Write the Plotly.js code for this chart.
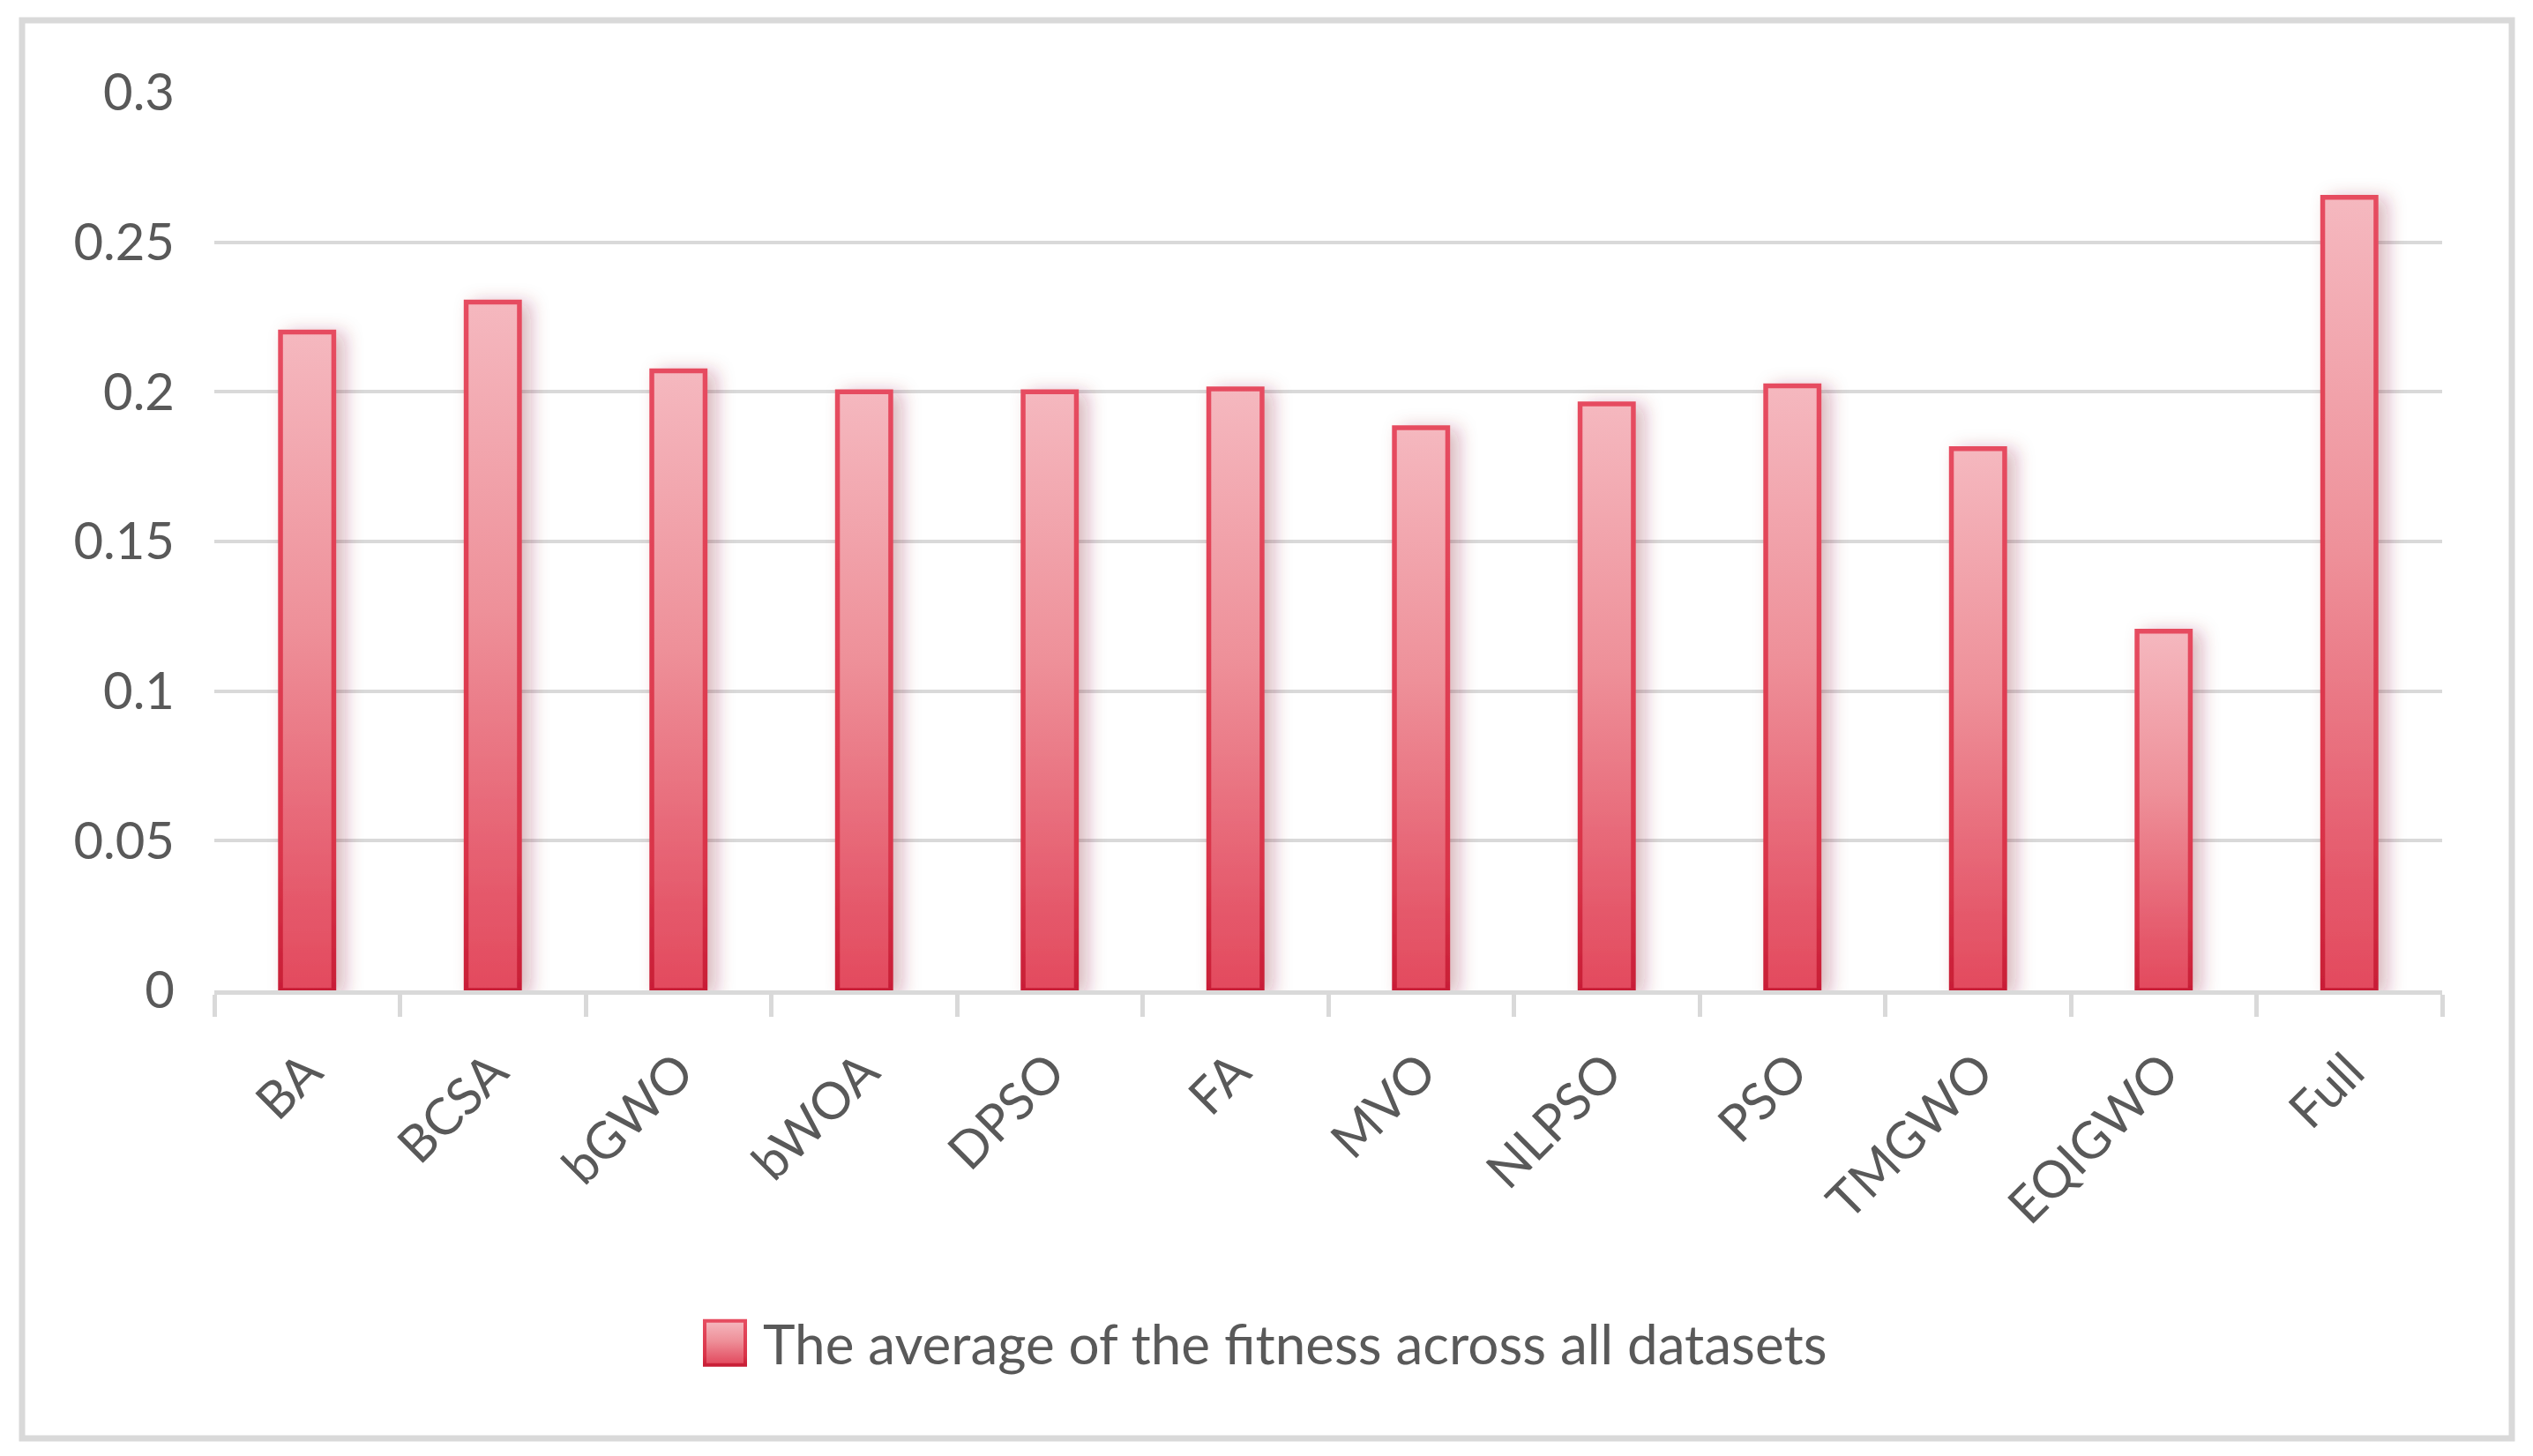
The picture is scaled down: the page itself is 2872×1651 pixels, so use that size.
<!DOCTYPE html>
<html><head><meta charset="utf-8">
<script src="https://cdn.plot.ly/plotly-3.0.1.min.js"></script>
<style>html,body{margin:0;padding:0;background:#fff;} #chart{width:2872px;height:1651px;}</style>
</head><body><div id="chart"></div>
<script>
const categories = ['BA','BCSA','bGWO','bWOA','DPSO','FA','MVO','NLPSO','PSO','TMGWO','EQIGWO','Full'];
const avgFitness = [0.220,0.230,0.207,0.200,0.200,0.201,0.188,0.196,0.202,0.181,0.120,0.265];
const yTickValues = [0,0.05,0.1,0.15,0.2,0.25,0.3];
const yTickLabels = ['0','0.05','0.1','0.15','0.2','0.25','0.3'];
const seriesName = 'The average of the fitness across all datasets';

const FONT = 'Lato, "Liberation Sans", sans-serif';
const TXT = '#595959';

const trace = {
  type: 'bar', x: categories, y: avgFitness, name: seriesName,
  showlegend: true,
  marker: {color: '#ec8590', line: {color: '#e34a5e', width: 5.5}},
  hoverinfo: 'none'
};

const layout = {
  width: 2872, height: 1651, autosize: false,
  margin: {l: 243, r: 103, t: 105, b: 528, pad: 0},
  paper_bgcolor: '#ffffff', plot_bgcolor: '#ffffff',
  bargap: 0.713,
  font: {family: FONT, color: TXT, size: 58},
  xaxis: {
    type: 'category', tickson: 'boundaries', ticks: 'outside', ticklen: 25, tickwidth: 5,
    tickcolor: '#d9d9d9', showline: true, linecolor: '#d9d9d9', linewidth: 5,
    showgrid: false, zeroline: false, tickangle: -45, ticklabelstandoff: 30,
    tickfont: {family: FONT, color: TXT, size: 58}
  },
  yaxis: {
    range: [0, 0.3], tickvals: yTickValues, ticktext: yTickLabels,
    showgrid: true, gridcolor: '#d9d9d9', gridwidth: 4, zeroline: false, showline: false,
    ticks: '', ticklabelstandoff: 44,
    tickfont: {family: FONT, color: TXT, size: 58}
  },
  showlegend: true,
  legend: {
    orientation: 'h', xref: 'container', yref: 'container', x: 0.5, xanchor: 'center',
    y: 0.0775, yanchor: 'middle', bgcolor: 'rgba(0,0,0,0)',
    font: {family: FONT, color: TXT, size: 62}, itemwidth: 60
  },
  shapes: [{
    type: 'rect', xref: 'paper', yref: 'paper', layer: 'below',
    x0: (25-243)/2526, x1: (2848-243)/2526, y0: (1123-1631)/1018, y1: (1123-23)/1018,
    line: {color: '#d9d9d9', width: 7}, fillcolor: 'rgba(0,0,0,0)'
  }]
};

Plotly.newPlot('chart', [trace], layout, {staticPlot: true, displayModeBar: false}).then(gd => {
  const NS = 'http://www.w3.org/2000/svg';
  const svg = gd.querySelector('.main-svg');
  let defs = svg.querySelector('defs');
  if (!defs) { defs = document.createElementNS(NS, 'defs'); svg.insertBefore(defs, svg.firstChild); }
  function grad(id, stops) {
    const g = document.createElementNS(NS, 'linearGradient');
    g.setAttribute('id', id); g.setAttribute('x1', '0'); g.setAttribute('y1', '0');
    g.setAttribute('x2', '0'); g.setAttribute('y2', '1');
    stops.forEach(([o, c]) => {
      const s = document.createElementNS(NS, 'stop');
      s.setAttribute('offset', o); s.setAttribute('stop-color', c); g.appendChild(s);
    });
    defs.appendChild(g);
  }
  grad('barGrad', [[0, '#f5b8bf'], [0.45, '#ee9099'], [0.85, '#e55a6c'], [1, '#e34a5e']]);
  grad('barStroke', [[0, '#e64c60'], [0.8, '#d93348'], [1, '#c81e36']]);
  const f = document.createElementNS(NS, 'filter');
  f.setAttribute('id', 'barShadow'); f.setAttribute('x', '-40%'); f.setAttribute('y', '-10%');
  f.setAttribute('width', '220%'); f.setAttribute('height', '120%');
  const ds = document.createElementNS(NS, 'feDropShadow');
  ds.setAttribute('dx', '10'); ds.setAttribute('dy', '3'); ds.setAttribute('stdDeviation', '10');
  ds.setAttribute('flood-color', '#8a2333'); ds.setAttribute('flood-opacity', '0.32');
  f.appendChild(ds); defs.appendChild(f);

  gd.querySelectorAll('.barlayer .point path').forEach(p => {
    p.style.fill = 'url(#barGrad)';
    p.style.stroke = 'url(#barStroke)';
    p.setAttribute('filter', 'url(#barShadow)');
  });
  gd.querySelectorAll('.legend .traces').forEach(tr => {
    const txt = tr.querySelector('text.legendtext');
    const p = tr.querySelector('.legendpoints path');
    if (!txt || !p) return;
    const textX = txt.getBBox().x;
    let tx = 0;
    const m = /translate\(\s*([-\d.]+)/.exec(p.getAttribute('transform') || '');
    if (m) tx = parseFloat(m[1]);
    const right = textX - 20 - tx, left = right - 46;
    p.setAttribute('d', `M${left},-25H${right}V25H${left}Z`);
    p.style.fill = 'url(#barGrad)';
    p.style.stroke = 'url(#barStroke)';
    p.style.strokeWidth = '4px';
  });
});
</script>
</body></html>
